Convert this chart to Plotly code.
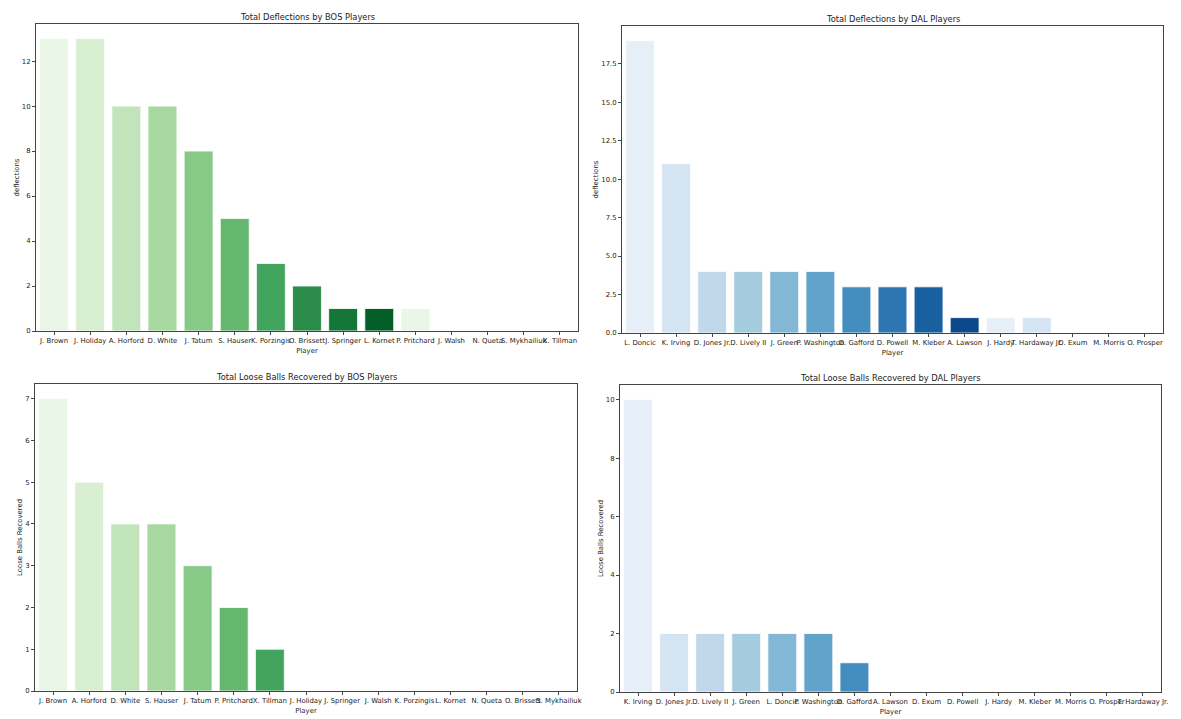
import colorsys
import plotly.graph_objects as go
from plotly.colors import sample_colorscale, unlabel_rgb

# ---------------- data ----------------
bos_defl_players = ["J. Brown", "J. Holiday", "A. Horford", "D. White", "J. Tatum", "S. Hauser",
                    "K. Porzingis", "O. Brissett", "J. Springer", "L. Kornet", "P. Pritchard",
                    "J. Walsh", "N. Queta", "S. Mykhailiuk", "X. Tillman"]
bos_defl_values = [13, 13, 10, 10, 8, 5, 3, 2, 1, 1, 1, 0, 0, 0, 0]

dal_defl_players = ["L. Doncic", "K. Irving", "D. Jones Jr.", "D. Lively II", "J. Green",
                    "P. Washington", "D. Gafford", "D. Powell", "M. Kleber", "A. Lawson",
                    "J. Hardy", "T. Hardaway Jr.", "D. Exum", "M. Morris", "O. Prosper"]
dal_defl_values = [19, 11, 4, 4, 4, 4, 3, 3, 3, 1, 1, 1, 0, 0, 0]

bos_loose_players = ["J. Brown", "A. Horford", "D. White", "S. Hauser", "J. Tatum", "P. Pritchard",
                     "X. Tillman", "J. Holiday", "J. Springer", "J. Walsh", "K. Porzingis",
                     "L. Kornet", "N. Queta", "O. Brissett", "S. Mykhailiuk"]
bos_loose_values = [7, 5, 4, 4, 3, 2, 1, 0, 0, 0, 0, 0, 0, 0, 0]

dal_loose_players = ["K. Irving", "D. Jones Jr.", "D. Lively II", "J. Green", "L. Doncic",
                     "P. Washington", "D. Gafford", "A. Lawson", "D. Exum", "D. Powell",
                     "J. Hardy", "M. Kleber", "M. Morris", "O. Prosper", "T. Hardaway Jr."]
dal_loose_values = [10, 2, 2, 2, 2, 2, 1, 0, 0, 0, 0, 0, 0, 0, 0]

W, H = 1181, 719
N_PAL = 10


def palette(name, n=N_PAL, sat=0.92):
    cols = sample_colorscale(name, [(i + 1) / (n + 1) for i in range(n)])
    out = []
    for c in cols:
        r, g, b = [v / 255 for v in unlabel_rgb(c)]
        h, l, s = colorsys.rgb_to_hls(r, g, b)
        r, g, b = colorsys.hls_to_rgb(h, l, s * sat)
        out.append("rgb(%d,%d,%d)" % (round(r * 255), round(g * 255), round(b * 255)))
    return out


greens = palette("Greens")
blues = palette("Blues")

# pixel boxes: left, top, right, bottom
panels = [
    dict(players=bos_defl_players, values=bos_defl_values, pal=greens,
         title="Total Deflections by BOS Players", ylab="deflections",
         box=(36, 24, 578, 331), dtick=2, fmt="d", title_y=17),
    dict(players=dal_defl_players, values=dal_defl_values, pal=blues,
         title="Total Deflections by DAL Players", ylab="deflections",
         box=(622, 26, 1163, 333), dtick=2.5, fmt=".1f", title_y=19),
    dict(players=bos_loose_players, values=bos_loose_values, pal=greens,
         title="Total Loose Balls Recovered by BOS Players", ylab="Loose Balls Recovered",
         box=(35, 384, 577, 691), dtick=1, fmt="d", title_y=377),
    dict(players=dal_loose_players, values=dal_loose_values, pal=blues,
         title="Total Loose Balls Recovered by DAL Players", ylab="Loose Balls Recovered",
         box=(620, 385, 1161, 692), dtick=2, fmt="d", title_y=378),
]

fig = go.Figure()
font = "DejaVu Sans"
TICK = 6.9
TITLE = 8.3
layout = {}
annotations = []
for i, p in enumerate(panels):
    k = "" if i == 0 else str(i + 1)
    colors = [p["pal"][j % len(p["pal"])] for j in range(len(p["players"]))]
    fig.add_trace(go.Bar(x=p["players"], y=p["values"], marker=dict(color=colors,
                         line=dict(color="white", width=0.8)),
                         xaxis="x" + k, yaxis="y" + k, showlegend=False))
    l, t, r, b = p["box"]
    axis_common = dict(showline=True, linecolor="#444", linewidth=1, mirror=True,
                       ticks="outside", ticklen=3, tickwidth=0.8, tickcolor="#444",
                       showgrid=False, zeroline=False, automargin=False,
                       tickfont=dict(family=font, size=TICK, color="#222"))
    layout["xaxis" + k] = dict(axis_common, domain=[l / W, r / W], anchor="y" + k,
                               type="category", range=[-0.5, len(p["players"]) - 0.5],
                               tickangle=0,
                               title=dict(text="Player", standoff=3,
                                          font=dict(family=font, size=TICK, color="#222")))
    ymax = max(p["values"]) * 1.05
    layout["yaxis" + k] = dict(axis_common, domain=[1 - b / H, 1 - t / H], anchor="x" + k,
                               range=[0, ymax], dtick=p["dtick"], tick0=0,
                               tickformat=p["fmt"],
                               title=dict(text=p["ylab"], standoff=1,
                                          font=dict(family=font, size=TICK, color="#222")))
    annotations.append(dict(text=p["title"], x=(l + r) / 2 / W, y=1 - p["title_y"] / H,
                            xref="paper", yref="paper", showarrow=False, xanchor="center",
                            yanchor="middle", font=dict(family=font, size=TITLE, color="#222")))

fig.update_layout(**layout)
fig.update_layout(width=W, height=H, margin=dict(l=0, r=0, t=0, b=0),
                  plot_bgcolor="white", paper_bgcolor="white", bargap=0.2,
                  annotations=annotations, font=dict(family=font))
fig.write_html("out.html", config={"displayModeBar": False},
               post_script="document.body.style.margin='0';document.body.style.overflow='hidden';")
